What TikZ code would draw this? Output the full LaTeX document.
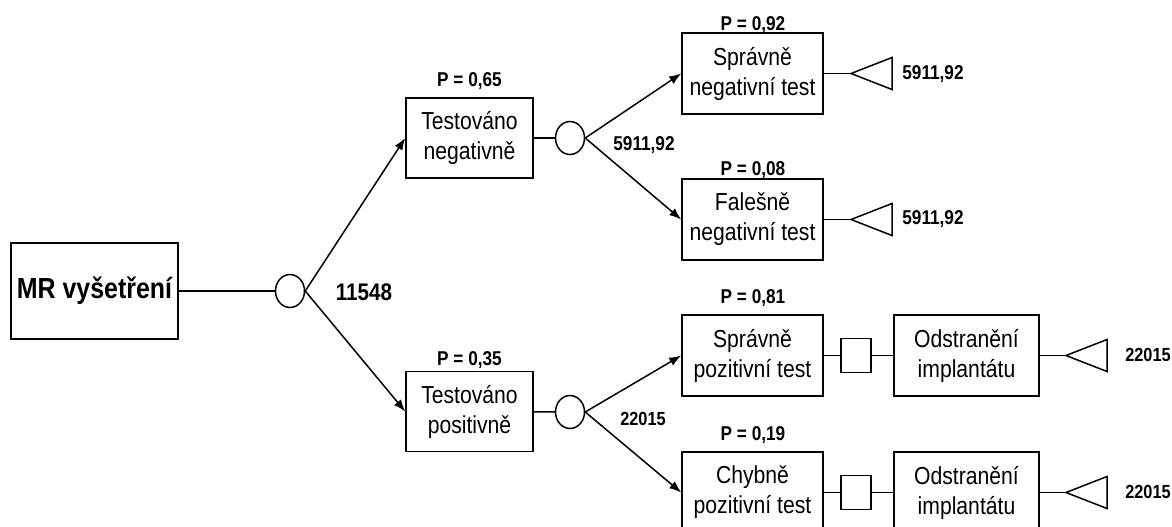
\documentclass[tikz,border=0pt]{standalone}
\usepackage{fontspec}
\setmainfont{Liberation Sans}[FakeStretch=0.86]
\usepackage{tikz}
\usetikzlibrary{calc,shapes,arrows.meta}

\begin{document}
\begin{tikzpicture}[x=0.5pt, y=-0.5pt, line width=0.75pt,
    box/.style={rectangle, draw, align=center, inner sep=1pt, minimum width=70.5pt, minimum height=40.5pt, font=\fontsize{12.3}{15}\selectfont},
    chance/.style={ellipse, draw, inner sep=0pt, minimum width=14.5pt, minimum height=16.5pt},
    choice/.style={rectangle, draw, inner sep=0pt, minimum width=15pt, minimum height=17pt},
    prob/.style={font=\bfseries\fontsize{10}{12}\selectfont, inner sep=0pt},
    value/.style={font=\bfseries\fontsize{10}{12}\selectfont, inner sep=0pt},
    branch/.style={draw, -{Latex[length=6pt,width=4.5pt]}}]
    \useasboundingbox (0,0) rectangle (1172,526);
    % Place nodes
    \node [box, minimum width=83.5pt, minimum height=48pt, font=\bfseries\fontsize{14.5}{17}\selectfont] (MR) at (94.5,291) {MR vyšetření};
    \node [chance] (C1) at (290,291) {};
    \node [value, font=\bfseries\fontsize{12}{14}\selectfont] (V1) at (364,292) {11548};
    \node [box, minimum width=63.5pt, minimum height=40pt] (TN) at (469.5,138) {Testováno\\negativně};
    \node [box, minimum width=63.5pt, minimum height=40pt] (TP) at (469.5,411.5) {Testováno\\positivně};
    \node [prob] (PTN) at (469.5,81) {P = 0,65};
    \node [prob] (PTP) at (469.5,360) {P = 0,35};
    \node [chance] (C2) at (570,138) {};
    \node [chance] (C3) at (570,412) {};
    \node [value] (V2) at (644,145) {5911,92};
    \node [value, font=\bfseries\fontsize{9.5}{11}\selectfont] (V3) at (643,419) {22015};
    % negative branch
    \node [box] (SN) at (752.5,73.5) {Správně\\negativní test};
    \node [box] (FN) at (752.5,219.5) {Falešně\\negativní test};
    \node [prob] (PSN) at (753,25) {P = 0,92};
    \node [prob] (PFN) at (753,170) {P = 0,08};
    \coordinate (T1) at (851,73.5);
    \coordinate (T2) at (851,219.5);
    \node [value] (V4) at (933,74) {5911,92};
    \node [value] (V5) at (933,219) {5911,92};
    % positive branch
    \node [box] (SP) at (752.5,355.5) {Správně\\pozitivní test};
    \node [box] (CH) at (752.5,492.5) {Chybně\\pozitivní test};
    \node [prob] (PSP) at (753,298) {P = 0,81};
    \node [prob] (PCH) at (753,435) {P = 0,19};
    \node [choice] (S1) at (856,355.5) {};
    \node [choice] (S2) at (856,492.5) {};
    \node [box, minimum width=72.5pt] (OD1) at (966.5,355.5) {Odstranění\\implantátu};
    \node [box, minimum width=72.5pt] (OD2) at (966.5,492.5) {Odstranění\\implantátu};
    \coordinate (T3) at (1066,355.5);
    \coordinate (T4) at (1066,492.5);
    \node [value, font=\bfseries\fontsize{9.5}{11}\selectfont] (V6) at (1148,355) {22015};
    \node [value, font=\bfseries\fontsize{9.5}{11}\selectfont] (V7) at (1148,492) {22015};
    % end triangles
    \path [draw] (T1) -- ++(41,-16) -- ++(0,32) -- cycle;
    \path [draw] (T2) -- ++(41,-16) -- ++(0,32) -- cycle;
    \path [draw] (T3) -- ++(41,-16) -- ++(0,32) -- cycle;
    \path [draw] (T4) -- ++(41,-16) -- ++(0,32) -- cycle;
    % connectors
    \path [draw] (MR) -- (C1);
    \path [branch] (C1.east) -- (TN.west);
    \path [branch] (C1.east) -- (TP.west);
    \path [draw] (TN) -- (C2);
    \path [draw] (TP) -- (C3);
    \path [branch] (C2.east) -- (SN.west);
    \path [branch] (C2.east) -- (FN.west);
    \path [branch] (C3.east) -- (SP.west);
    \path [branch] (C3.east) -- (CH.west);
    \path [draw] (SN) -- (T1);
    \path [draw] (FN) -- (T2);
    \path [draw] (SP) -- (S1);
    \path [draw] (S1) -- (OD1);
    \path [draw] (OD1) -- (T3);
    \path [draw] (CH) -- (S2);
    \path [draw] (S2) -- (OD2);
    \path [draw] (OD2) -- (T4);
\end{tikzpicture}
\end{document}
